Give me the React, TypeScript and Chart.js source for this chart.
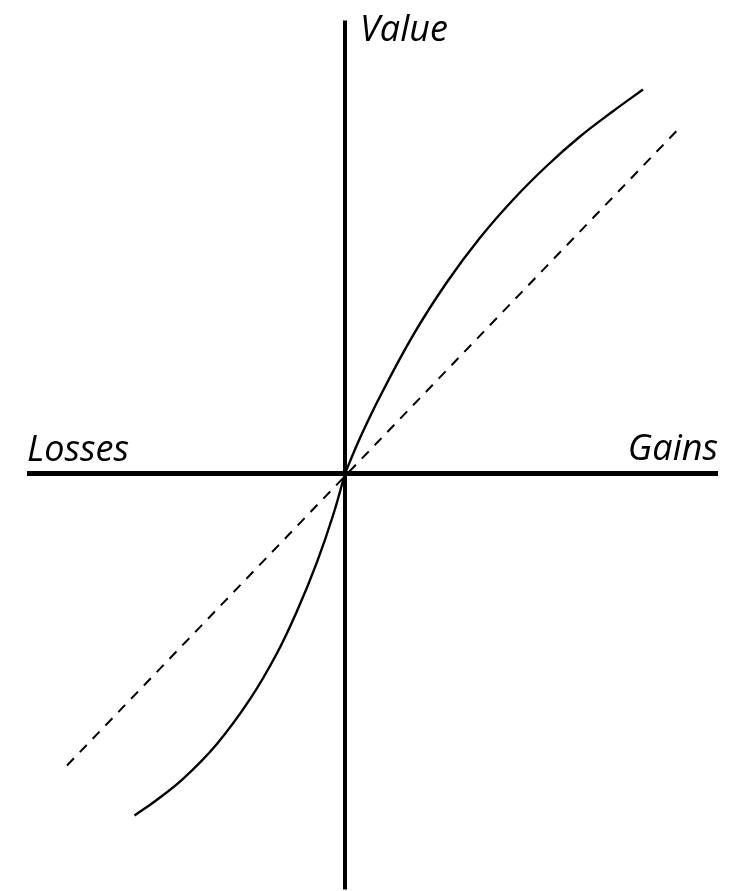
import React, { useEffect, useRef } from "react";
import { Chart, registerables } from "chart.js";

Chart.register(...registerables);

// Data (units: relative to origin, value up / gains right)
const gainsX = [0, 15, 35, 68.3, 101.7, 135, 168.3, 201.7, 235, 268.3, 298];
const gainsY = [0, 35.5, 77, 138.6, 191, 235.7, 274, 307.5, 337, 362.5, 384];
const lossesX = [-210.5, -190, -161.7, -128.3, -95, -68.3, -48.3, -28.3, -12, 0];
const lossesY = [-342, -327.7, -305.1, -270.7, -225.7, -180.3, -138.3, -89.3, -42, 0];
const refX = [-278, 332];
const refY = [-292, 343];
const axisXRange = [-318, 373];
const axisYRange = [-416, 453];
const axisLabels = ["Losses", "Gains", "Value"];

export default function App() {
  const ref = useRef<HTMLCanvasElement | null>(null);
  useEffect(() => {
    document.body.style.margin = "0";
    const canvas = ref.current;
    if (!canvas) return;
    const pts = (xs: number[], ys: number[]) => xs.map((x, i) => ({ x, y: ys[i] }));
    const labelPlugin = {
      id: "axisLabels",
      afterDatasetsDraw(chart: any) {
        const { ctx, scales } = chart;
        const xs = scales.x, ys = scales.y;
        const ox = xs.getPixelForValue(0);
        const oy = ys.getPixelForValue(0);
        ctx.save();
        ctx.fillStyle = "#000";
        ctx.font = "italic 36px 'Open Sans'";
        ctx.textBaseline = "alphabetic";
        ctx.textAlign = "left";
        ctx.fillText(axisLabels[0], xs.getPixelForValue(axisXRange[0]), oy - 13);
        ctx.textAlign = "right";
        ctx.fillText(axisLabels[1], xs.getPixelForValue(axisXRange[1]), oy - 14);
        ctx.textAlign = "left";
        ctx.fillText(axisLabels[2], ox + 15, ys.getPixelForValue(axisYRange[1]) + 20);
        ctx.restore();
      },
    };
    const chart = new Chart(canvas, {
      type: "line",
      data: {
        datasets: [
          {
            data: pts(axisXRange, [0, 0]),
            borderColor: "#000",
            borderWidth: 5,
            pointRadius: 0,
            borderCapStyle: "butt",
          },
          {
            data: pts([0, 0], axisYRange),
            borderColor: "#000",
            borderWidth: 4,
            pointRadius: 0,
            borderCapStyle: "butt",
          },
          {
            data: pts(refX, refY),
            borderColor: "#000",
            borderWidth: 2,
            borderDash: [10, 8.5],
            pointRadius: 0,
          },
          {
            data: pts(gainsX, gainsY),
            borderColor: "#000",
            borderWidth: 2.4,
            pointRadius: 0,
            tension: 0.4,
          },
          {
            data: pts(lossesX, lossesY),
            borderColor: "#000",
            borderWidth: 2.4,
            pointRadius: 0,
            tension: 0.4,
          },
        ],
      },
      options: {
        animation: false,
        responsive: false,
        maintainAspectRatio: false,
        layout: { padding: 0 },
        plugins: { legend: { display: false }, tooltip: { enabled: false } },
        scales: {
          x: { type: "linear", min: -345, max: 388, display: false },
          y: { type: "linear", min: -417.5, max: 473.5, display: false },
        },
      },
      plugins: [labelPlugin],
    } as any);
    return () => chart.destroy();
  }, []);
  return (
    <div style={{ width: 733, height: 891, background: "#fff" }}>
      <canvas ref={ref} width={733} height={891} style={{ display: "block" }} />
    </div>
  );
}
